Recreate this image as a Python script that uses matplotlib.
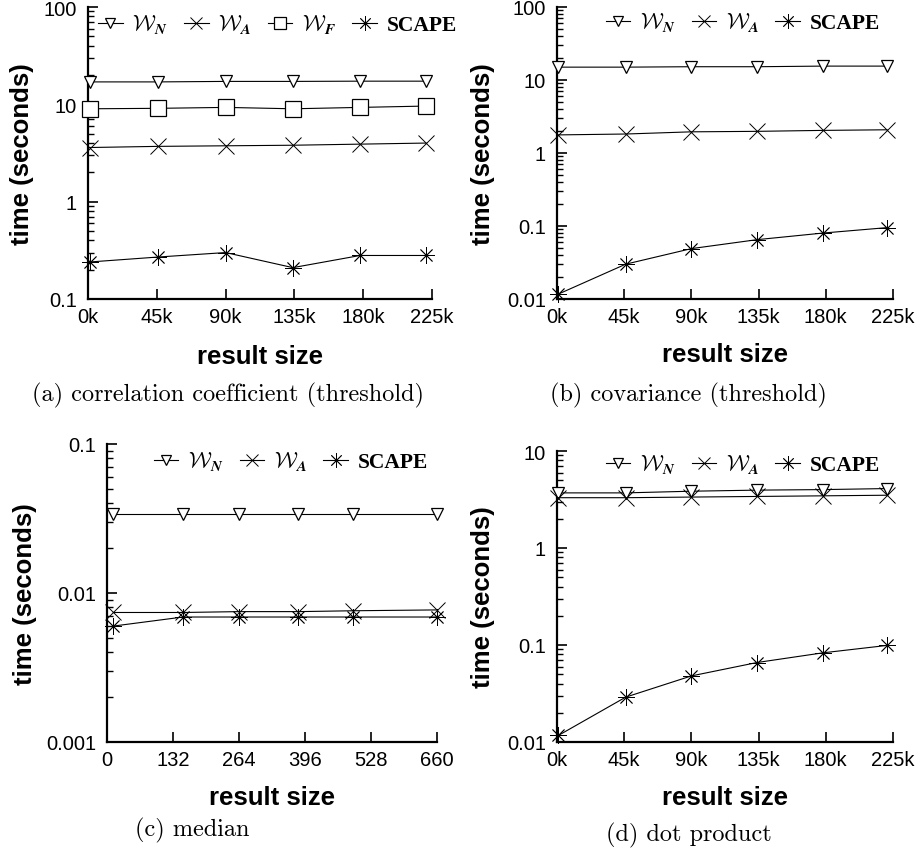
import matplotlib
matplotlib.use("Agg")
import matplotlib.pyplot as plt
from matplotlib.ticker import FixedLocator, FixedFormatter, LogLocator, NullFormatter

plt.rcParams['mathtext.fontset'] = 'cm'

# x positions (k) of the runs
x_k = [1, 46, 90, 134, 178, 221]
x_med = [13, 152, 265, 383, 493, 660]

# (a) correlation coefficient (threshold)
a_wn = [17.0, 17.0, 17.2, 17.2, 17.3, 17.3]
a_wa = [3.6, 3.7, 3.75, 3.8, 3.9, 4.0]
a_wf = [9.0, 9.1, 9.3, 9.0, 9.3, 9.6]
a_scape = [0.24, 0.27, 0.30, 0.21, 0.28, 0.28]

# (b) covariance (threshold)
b_wn = [15.0, 15.0, 15.2, 15.2, 15.5, 15.5]
b_wa = [1.77, 1.82, 1.95, 1.98, 2.04, 2.08]
b_scape = [0.0117, 0.030, 0.049, 0.065, 0.080, 0.095]

# (c) median
c_wn = [0.034, 0.034, 0.034, 0.034, 0.034, 0.034]
c_wa = [0.0074, 0.0074, 0.0075, 0.0075, 0.0076, 0.0077]
c_scape = [0.0060, 0.0069, 0.0069, 0.0069, 0.0069, 0.0069]

# (d) dot product
d_wn = [3.7, 3.7, 3.85, 3.95, 4.0, 4.1]
d_wa = [3.3, 3.3, 3.35, 3.4, 3.45, 3.5]
d_scape = [0.0117, 0.029, 0.048, 0.066, 0.083, 0.099]

k_ticks = [0, 45, 90, 135, 180, 225]
k_labels = ['0k', '45k', '90k', '135k', '180k', '225k']
med_ticks = [0, 132, 264, 396, 528, 660]
med_labels = ['0', '132', '264', '396', '528', '660']

lbl_wn = r'$\mathcal{W}_{\boldsymbol{N}}$'
lbl_wa = r'$\mathcal{W}_{\boldsymbol{A}}$'
lbl_wf = r'$\mathcal{W}_{\boldsymbol{F}}$'
lbl_sc = 'SCAPE'

W, H = 920, 854
fig = plt.figure(figsize=(W / 100, H / 100), dpi=100)

def make_ax(x0, y0, x1, y1):
    return fig.add_axes([x0 / W, 1 - y1 / H, (x1 - x0) / W, (y1 - y0) / H])

sans = 'Liberation Sans'
star = (8, 2, 0)

def style(ax, xt, xl, xmax, ylim, yt, ylab, ylx, xly):
    ax.set_yscale('log')
    ax.set_xlim(0, xmax)
    ax.set_ylim(*ylim)
    for s in ['top', 'right']:
        ax.spines[s].set_visible(False)
    for s in ['left', 'bottom']:
        ax.spines[s].set_linewidth(1.6)
    ax.xaxis.set_major_locator(FixedLocator(xt))
    ax.xaxis.set_major_formatter(FixedFormatter(xl))
    ax.yaxis.set_major_locator(FixedLocator(yt))
    ax.yaxis.set_major_formatter(FixedFormatter(ylab))
    ax.yaxis.set_minor_locator(LogLocator(base=10, subs=range(2, 10)))
    ax.yaxis.set_minor_formatter(NullFormatter())
    ax.tick_params(axis='both', which='major', direction='in', length=7, width=1.2,
                   labelsize=14.5)
    ax.tick_params(axis='y', which='major', pad=8)
    ax.tick_params(axis='x', which='major', pad=6)
    ax.tick_params(axis='y', which='minor', direction='in', length=4, width=1)
    for t in ax.get_xticklabels() + ax.get_yticklabels():
        t.set_fontfamily(sans)
    ax.set_xlabel('result size', fontsize=18.5, fontweight='bold', fontfamily=sans)
    ax.xaxis.label.set_va('center')
    ax.xaxis.set_label_coords(0.5, xly)
    ax.set_ylabel('time (seconds)', fontsize=18.5, fontweight='bold', fontfamily=sans)
    ax.yaxis.label.set_va('center')
    ax.yaxis.set_label_coords(ylx, 0.5)

def series(ax, x, y, marker, label, ms=9, mew=0.9):
    ax.plot(x, y, color='black', lw=0.8, marker=marker, ms=ms, mfc='white',
            mec='black', mew=mew, label=label, clip_on=False, zorder=3)

def legend(ax, bx, by):
    leg = ax.legend(loc='center right', bbox_to_anchor=(bx, by), ncol=4, frameon=False,
                    handlelength=1.15, handletextpad=0.45, columnspacing=0.75,
                    borderpad=0, borderaxespad=0, markerscale=0.85, prop={'size': 15.5})
    for t in leg.get_texts():
        if t.get_text() == lbl_sc:
            t.set_fontfamily('Liberation Serif')
            t.set_fontweight('bold')

# (a)
ax = make_ax(88, 8, 432, 300)
series(ax, x_k, a_wn, 'v', lbl_wn)
series(ax, x_k, a_wa, 'x', lbl_wa, 11, 0.7)
series(ax, x_k, a_wf, 's', lbl_wf, 11)
series(ax, x_k, a_scape, star, lbl_sc, 12, 0.6)
style(ax, k_ticks, k_labels, 225, (0.1, 100), [0.1, 1, 10, 100], ['0.1', '1', '10', '100'],
      -0.192, -0.195)
legend(ax, 1.073, 0.942)

# (b)
ax = make_ax(557, 8, 893, 300)
series(ax, x_k, b_wn, 'v', lbl_wn)
series(ax, x_k, b_wa, 'x', lbl_wa, 11, 0.7)
series(ax, x_k, b_scape, star, lbl_sc, 12, 0.6)
style(ax, k_ticks, k_labels, 225, (0.01, 100), [0.01, 0.1, 1, 10, 100],
      ['0.01', '0.1', '1', '10', '100'], -0.22, -0.19)
legend(ax, 0.961, 0.949)

# (c)
ax = make_ax(107, 445, 437, 743)
series(ax, x_med, c_wn, 'v', lbl_wn)
series(ax, x_med, c_wa, 'x', lbl_wa, 11, 0.7)
series(ax, x_med, c_scape, star, lbl_sc, 12, 0.6)
style(ax, med_ticks, med_labels, 660, (0.001, 0.1), [0.001, 0.01, 0.1],
      ['0.001', '0.01', '0.1'], -0.248, -0.185)
legend(ax, 0.973, 0.943)

# (d)
ax = make_ax(557, 452, 893, 743)
series(ax, x_k, d_wn, 'v', lbl_wn)
series(ax, x_k, d_wa, 'x', lbl_wa, 11, 0.7)
series(ax, x_k, d_scape, star, lbl_sc, 12, 0.6)
style(ax, k_ticks, k_labels, 225, (0.01, 10), [0.01, 0.1, 1, 10],
      ['0.01', '0.1', '1', '10'], -0.22, -0.19)
legend(ax, 0.961, 0.955)

caps = [(228, 395, '(a) correlation coefficient (threshold)'),
        (688, 395, '(b) covariance (threshold)'),
        (192, 830, '(c) median'),
        (689, 835, '(d) dot product')]
for cx, cy, txt in caps:
    fig.text(cx / W, 1 - cy / H, txt, ha='center', va='center', fontsize=17.5,
             fontfamily='cmr10')

fig.savefig('out.png', dpi=100)
